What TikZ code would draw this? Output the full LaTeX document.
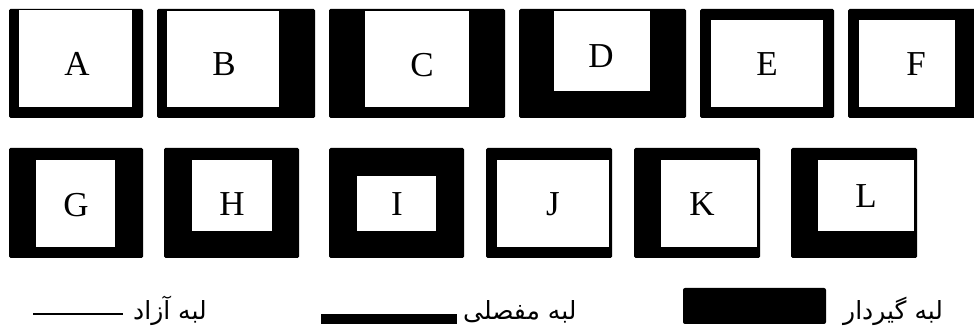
\documentclass[tikz,border=0pt]{standalone}
\usepackage{fontspec}
\setmainfont{Liberation Serif}
\newfontfamily\arabicfont[Script=Arabic]{DejaVu Sans}
\TeXXeTstate=1

\begin{document}
\begin{tikzpicture}[
  x=1pt,y=-1pt,
  outer/.style={fill=black, rounded corners=1.5pt},
  inner/.style={fill=white},
  letter/.style={font=\fontsize{35}{40}\selectfont, inner sep=0pt},
  legtext/.style={font=\arabicfont\fontsize{25}{30}\selectfont, inner sep=0pt, anchor=base west}
]
\clip (0,0) rectangle (974,328);
% plates: outer frame, free area, label
\foreach \n/\xa/\ya/\xb/\yb/\ia/\ja/\ib/\jb/\lx/\ly in {
  A/9/9/143/118/19/10/132/107/77/64,
  B/157/9/315/118/167/11.5/279/107/224/64,
  C/329/9/505/118/365/11.5/469/107/422/65,
  D/519/9/686/118/554/11.5/650/91/601/56,
  E/700/9/834/118/711/20/823/107/767/64,
  F/848/9/991/118/859/20/955/107/916/64,
  G/9/148/143/258/36/160/115/247/76/205,
  H/164/148/299/258/192/160/272/231/232/204,
  I/329/148/464/258/357/176/436/231/397/204,
  J/486/148/612/258/497/160/609/247/553/204,
  K/634/148/760/258/661/160/757/247/702/204,
  L/791/148/917/258/818/160/914/231/866/196}{
  \fill[outer] (\xa,\ya) rectangle (\xb,\yb);
  \fill[inner] (\ia,\ja) rectangle (\ib,\jb);
  \node[letter] (\n) at (\lx,\ly) {\n};
}
% legend
\draw[line width=2pt] (33,314.5) -- (123,314.5);
\node[legtext] (free) at (133,320) {\beginR لبه آزاد\endR};
\fill (321,314) rectangle (457,324);
\node[legtext] (hinged) at (463,320) {\beginR لبه مفصلی\endR};
\fill[rounded corners=2pt] (683,288) rectangle (826,324);
\node[legtext] (clamped) at (843,320) {\beginR لبه گیردار\endR};
\end{tikzpicture}
\end{document}
